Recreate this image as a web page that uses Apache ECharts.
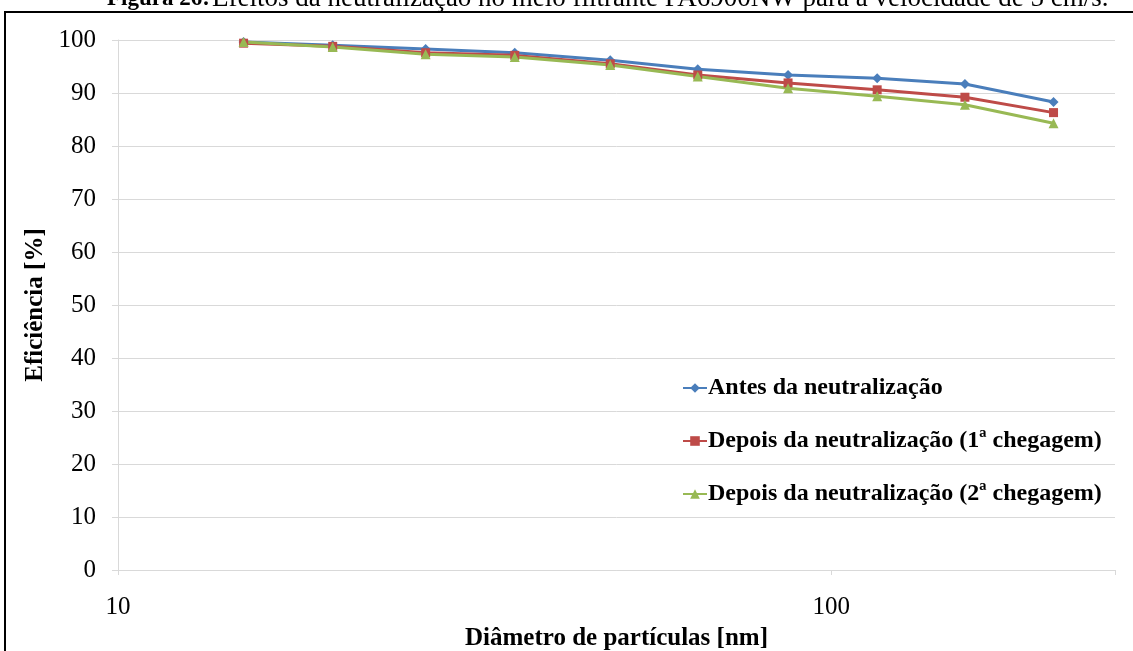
<!DOCTYPE html>
<html>
<head>
<meta charset="utf-8">
<script src="https://cdn.jsdelivr.net/npm/echarts@6/dist/echarts.min.js"></script>
<style>
  html, body { margin: 0; padding: 0; background: #fff; }
  #chart { width: 1133px; height: 651px; }
</style>
</head>
<body>
<div id="chart"></div>
<script>
// Particle diameters [nm]
const diameters = [15, 20, 27, 36, 49, 65, 87, 116, 154, 205];
// Collection efficiency [%]
const antes = [99.6, 99.0, 98.3, 97.6, 96.2, 94.5, 93.4, 92.8, 91.7, 88.3];
const depois1 = [99.4, 98.8, 97.6, 97.1, 95.5, 93.4, 91.9, 90.6, 89.2, 86.3];
const depois2 = [99.6, 98.7, 97.3, 96.8, 95.3, 93.1, 90.9, 89.4, 87.8, 84.3];
const seriesNames = [
  'Antes da neutralização',
  'Depois da neutralização (1ª chegagem)',
  'Depois da neutralização (2ª chegagem)'
];
const yTicks = { min: 0, max: 100, step: 10 };
const xRange = { min: 10, max: 250 };
const captionLabel = 'Figura 26:';
const captionText = 'Efeitos da neutralização no meio filtrante PA6900NW para a velocidade de 5 cm/s.';

const serif = '"Liberation Serif", "Times New Roman", serif';
const pairs = (xs, ys) => xs.map((x, i) => [x, ys[i]]);
const isDecade = v => Math.abs(Math.log10(v) - Math.round(Math.log10(v))) < 1e-6;

const chart = echarts.init(document.getElementById('chart'), null, { renderer: 'canvas' });

const mkSeries = (name, data, color, symbol, size) => ({
  name, type: 'line', data,
  symbol, symbolSize: size,
  lineStyle: { color, width: 3 },
  itemStyle: { color },
  animation: false
});

chart.setOption({
  backgroundColor: '#fff',
  animation: false,
  graphic: [
    {
      type: 'rect',
      shape: { x: 5, y: 12, width: 1150, height: 680 },
      style: { fill: 'none', stroke: '#000', lineWidth: 2 },
      silent: true
    },
    // caption above the frame, mostly running off the top edge
    {
      type: 'text',
      x: 107, y: 11,
      style: {
        text: captionLabel,
        font: 'bold 23px ' + serif,
        fill: '#000',
        verticalAlign: 'bottom'
      }
    },
    {
      type: 'text',
      x: 212, y: 12,
      style: {
        text: captionText,
        font: '27px ' + serif,
        fill: '#000',
        verticalAlign: 'bottom'
      }
    }
  ],
  grid: { left: 118, right: 18, top: 40, bottom: 81, containLabel: false, outerBoundsMode: 'none' },
  legend: {
    orient: 'vertical',
    left: 677, top: 371,
    itemWidth: 24, itemHeight: 12, itemGap: 29,
    textStyle: { fontFamily: serif, fontWeight: 'bold', fontSize: 24, color: '#000', padding: [0, 0, 0, -4] },
    data: seriesNames
  },
  xAxis: {
    type: 'log', logBase: 10,
    min: xRange.min, max: xRange.max,
    name: 'Diâmetro de partículas [nm]',
    nameLocation: 'middle', nameGap: 56,
    nameTextStyle: { fontFamily: serif, fontWeight: 'bold', fontSize: 25, color: '#000' },
    axisLine: { lineStyle: { color: '#d9d9d9', width: 1 } },
    axisTick: { show: true, length: 5, lineStyle: { color: '#d9d9d9' } },
    axisLabel: {
      fontFamily: serif, fontSize: 25, color: '#000', margin: 25,
      formatter: v => (isDecade(v) ? String(Math.round(v)) : '')
    },
    splitLine: { show: false },
    minorTick: { show: false }
  },
  yAxis: {
    type: 'value',
    min: yTicks.min, max: yTicks.max, interval: yTicks.step,
    name: 'Eficiência [%]',
    nameLocation: 'middle', nameGap: 60, nameRotate: 90,
    nameTextStyle: { fontFamily: serif, fontWeight: 'bold', fontSize: 25, color: '#000' },
    axisLine: { show: true, lineStyle: { color: '#d9d9d9', width: 1 } },
    axisTick: { show: true, length: 6, lineStyle: { color: '#d9d9d9' } },
    axisLabel: { fontFamily: serif, fontSize: 25, color: '#000', margin: 22 },
    splitLine: { show: true, lineStyle: { color: '#d9d9d9', width: 1 } }
  },
  series: [
    mkSeries(seriesNames[0], pairs(diameters, antes), '#4A7EBB', 'diamond', 10),
    mkSeries(seriesNames[1], pairs(diameters, depois1), '#BE4B48', 'rect', 9),
    mkSeries(seriesNames[2], pairs(diameters, depois2), '#98B954', 'triangle', 10)
  ]
});
</script>
</body>
</html>
